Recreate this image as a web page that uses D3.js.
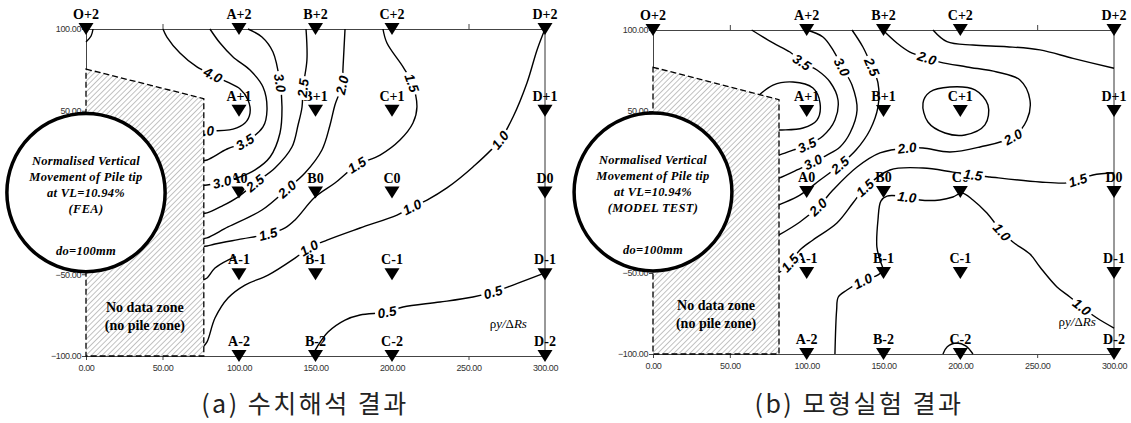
<!DOCTYPE html>
<html>
<head>
<meta charset="utf-8">
<script src="https://cdn.jsdelivr.net/npm/d3@7"></script>
<style>
  body { margin: 0; background: #fff; }
  .axis path, .axis line { stroke: #444; }
  .axis text { font-family: "Liberation Sans", Arial, sans-serif; font-size: 9px; fill: #333; letter-spacing: -0.4px; }
  .gauge text { font-family: "Liberation Serif", "Times New Roman", Tinos, "DejaVu Serif", serif; font-weight: bold; font-size: 14px; }
  .clabel { font-family: "Liberation Sans", Arial, sans-serif; font-weight: bold; font-style: italic; font-size: 13.5px; }
  .note { font-family: "Liberation Serif", "Times New Roman", Tinos, "DejaVu Serif", serif; font-weight: bold; font-style: italic; font-size: 12.5px; letter-spacing: 0.3px; }
  .zone { font-family: "Liberation Serif", "Times New Roman", Tinos, "DejaVu Serif", serif; font-weight: bold; font-size: 14px; }
  .unit { font-family: "Liberation Serif", "Times New Roman", Tinos, "DejaVu Serif", serif; font-size: 13px; }
  .caption { font-family: "Noto Sans CJK KR", sans-serif; font-size: 25px; fill: #222; letter-spacing: 2.5px; }
</style>
</head>
<body>
<svg id="chart" width="1131" height="423"></svg>
<script>

// axis ticks (mm); the 0.00 tick of the vertical axis sits under the pile circle
var xTicks = [0, 50, 100, 150, 200, 250, 300];
var yTicks = [-100, -50, 50, 100];

// gauge grid
var gaugeCols = [["A", 100], ["B", 150], ["C", 200], ["D", 300]];
var gaugeRows = [["+2", 100], ["+1", 50], ["0", 0], ["-1", -50], ["-2", -100]];

// pile (do = 100mm) and no data zones
var pileRadius = 50;
var feaHatch = [[0, 75.5], [77, 57.4], [77, -100], [0, -100]];
var modelHatch = [[0, 77], [82, 57], [82, -100], [0, -100]];

// contour lines: level, points (x mm, y mm), label vertices
var feaContours = [
  {level: 4.5, labels: [], pts: [[4.6,100],[3.3,95.7],[0,92]]},
  {level: 4.0, labels: [4, 11], pts: [[50.3,100],[52.9,95.1],[61.4,85.3],[72.5,76.8],[83,71.9],[92.2,67.6],[100.7,63.3],[105.9,56.6],[107.2,48.6],[103.9,42.5],[96.1,38.8],[77.5,37.6],[72,37.6]]},
  {level: 3.5, labels: [7], pts: [[81,100],[87.6,91.4],[96.1,82.9],[107.2,74.9],[115.7,64.5],[118.3,50.5],[115.7,40.1],[103.9,30.9],[92.2,26.6],[79.1,19.9],[76,19.5]]},
  {level: 3.0, labels: [3, 9], pts: [[105.9,100],[115,95.1],[122.2,85.9],[126.8,67.0],[128.1,52.3],[126.8,36.4],[120.3,21.7],[110.5,13.8],[100.7,9.5],[88.9,6.4],[79.1,4.6],[76,4.4]]},
  {level: 2.5, labels: [2, 7], pts: [[143.8,100],[144.4,81.0],[141.8,63.9],[141.2,52.3],[138.6,41.3],[134.6,27.8],[123.5,15.0],[110.5,5.8],[99.3,-2.8],[88.9,-8.3],[79.1,-12.5],[76,-12.8]]},
  {level: 2.0, labels: [2, 7], pts: [[169.3,100],[168,76.8],[167.3,65.7],[162.7,53.5],[159.5,41.3],[154.2,26.0],[143.1,11.9],[131.4,2.1],[115,-10.7],[92.8,-21.1],[79.1,-27.8],[76,-28.3]]},
  {level: 1.5, labels: [3, 8, 13], pts: [[194.1,100],[196.7,91.4],[207.2,76.8],[213.1,67.0],[216.3,52.3],[213.7,42.5],[205.2,32.1],[192.2,22.9],[177.1,16.8],[162.7,5.8],[149.7,-2.8],[136.6,-16.8],[130.1,-21.7],[119,-25.4],[102,-28.4],[84.3,-31.5],[79.1,-32.7],[76,-33]]},
  {level: 1.0, labels: [4, 8, 12], pts: [[300,100],[294.8,87.2],[288.2,67.0],[279.1,46.2],[270.6,32.1],[252.9,15.6],[235.9,2.8],[222.9,-4.6],[213.1,-8.9],[203.3,-13.8],[179.1,-21.7],[157.5,-29.1],[145.8,-33.9],[136.6,-40.1],[119,-50.5],[103.9,-56.6],[92.8,-64.5],[84.3,-76.8],[79.1,-91.4],[76,-95]]},
  {level: 1.0, labels: [], pts: [[76,-53.5],[79.1,-52.3],[84.3,-46.2],[92.8,-41.3],[98,-39.4]]},
  {level: 0.5, labels: [5, 9], pts: [[147.7,-100],[151,-94.5],[158.2,-85.3],[169.3,-78],[179.1,-74.9],[196.7,-73.1],[207.2,-70],[231.4,-67],[252.9,-63.9],[266,-60.9],[279.1,-56.6],[300,-49.2]]}
];

var modelContours = [
  {level: 4.0, labels: [], pts: [[67.7,58.6],[78.1,66.0],[91.1,67.9],[104.1,64.2],[108.7,54.9],[106.7,44.4],[97.6,39.5],[83.9,38.3],[79.4,38.3]]},
  {level: 3.5, labels: [3, 9], pts: [[64.2,100],[78.1,92.0],[89.1,86.4],[96.9,80.2],[106.7,75.3],[115.2,67.9],[120.4,56.8],[118.4,44.4],[110.6,34.6],[100.2,29.0],[91.1,25.9],[82.0,22.8],[79.4,22.2]]},
  {level: 3.0, labels: [3, 9], pts: [[100,100],[110.6,95.7],[117.1,87.7],[123.0,77.2],[129.5,66.0],[132.8,50.6],[128.2,36.4],[121.7,27.8],[113.2,22.8],[104.1,18.5],[93.7,13.6],[82.0,8.6],[79.4,8.0]]},
  {level: 2.5, labels: [2, 7], pts: [[129.5,100],[136.6,89.5],[142.5,77.2],[146.4,67.3],[146.4,52.5],[141.2,38.3],[132.1,25.9],[121.7,16.7],[108.7,7.4],[95.6,-1.9],[82.0,-8.0],[79.4,-9.3]]},
  {level: 2.0, labels: [3, 10, 14, 18], pts: [[149.6,100],[158.7,92.0],[167.2,86.4],[178.3,82.7],[186.7,80.2],[204.3,77.2],[223.8,74.1],[238.8,69.1],[245.3,56.8],[243.3,44.4],[234.2,34.0],[212.8,27.8],[193.2,24.7],[175.7,27.2],[165.3,27.2],[147.7,24.1],[132.8,15.4],[117.1,1.2],[107.4,-9.3],[95.6,-18.5],[82.0,-26.5],[79.4,-27.8]]},
  {level: 2.5, labels: [], closed: true, pts: [[175.7,54.9],[180.2,61.7],[193.2,64.8],[209.5,63.0],[218.0,53.7],[216.0,41.4],[203.0,35.2],[190.0,36.4],[178.9,43.2]]},
  {level: 2.0, labels: [], pts: [[182.2,100],[191.3,92.8],[208.2,90.7],[230.3,89.7],[251.8,87.7],[273.3,82.5],[300,76.4]]},
  {level: 1.5, labels: [2, 6, 10, 15], pts: [[300,11.7],[286.3,10.5],[276.5,7.4],[269.4,5.6],[251.8,6.2],[219.3,9.3],[208.2,10.5],[195.2,12.3],[175.7,14.8],[154.2,13.6],[137.9,2.5],[130.1,-6.8],[119.7,-19.1],[104.1,-29.6],[95.6,-35.8],[89.1,-43.8],[82.6,-49.4],[79.4,-50.6]]},
  {level: 1.0, labels: [4, 12, 19, 25], pts: [[118.4,-100],[119.5,-72.8],[120.6,-64.8],[126.2,-60.5],[136.6,-54.9],[146.4,-51.2],[149.6,-48.1],[147.7,-42.0],[145.7,-34.0],[146.4,-17.3],[148.3,-5.6],[152.3,-2.5],[165.3,-3.1],[173.7,-4.9],[186.7,-4.9],[195.2,-3.1],[201.0,-0.6],[208.2,-4.9],[217.3,-13.0],[227.1,-24.7],[234.2,-30.9],[245.3,-38.3],[251.8,-46.3],[262.9,-58.6],[271.3,-64.8],[279.1,-71.0],[288.9,-77.8],[300,-84.0]]},
  {level: 0.5, labels: [], pts: [[188.7,-100],[191.5,-95.5],[197.8,-93.2],[203.5,-95],[208.2,-100]]}
];

var noteLines = ["Normalised Vertical", "Movement of Pile tip", "at VL=10.94%"];

var gauges = [{name: "O+2", x: 0, y: 100}];
gaugeCols.forEach(function(c) {
  gaugeRows.forEach(function(r) {
    gauges.push({name: c[0] + r[0], x: c[1], y: r[1]});
  });
});

var panels = [
  {left: 86, right: 545, top: 29, bottom: 356, contours: feaContours, hatch: feaHatch,
   method: "(FEA)", caption: "(a) 수치해석 결과", captionX: 305},
  {left: 653, right: 1114, top: 30, bottom: 354, contours: modelContours, hatch: modelHatch,
   method: "(MODEL TEST)", caption: "(b) 모형실험 결과", captionX: 859}
];

var svg = d3.select("#chart");

// hatch pattern
svg.append("defs").append("pattern")
    .attr("id", "hatch")
    .attr("patternUnits", "userSpaceOnUse")
    .attr("width", 3.8).attr("height", 3.8)
    .attr("patternTransform", "rotate(45)")
  .append("line")
    .attr("x1", 0).attr("y1", 0).attr("x2", 0).attr("y2", 3.8)
    .attr("stroke", "#666").attr("stroke-width", 0.8);

var fmt = d3.format(".2f");

panels.forEach(function(p) {

    var x = d3.scaleLinear().domain([0, 300]).range([p.left, p.right]);
    var y = d3.scaleLinear().domain([-100, 100]).range([p.bottom, p.top]);

    var g = svg.append("g");

    // Axes
    g.append("g").attr("class", "axis")
        .attr("transform", "translate(0," + p.bottom + ")")
        .call(d3.axisBottom(x).tickValues(xTicks).tickFormat(fmt).tickSize(4).tickSizeOuter(0).tickPadding(5));

    g.append("g").attr("class", "axis")
        .attr("transform", "translate(" + p.left + ",0)")
        .call(d3.axisLeft(y).tickValues(yTicks).tickFormat(fmt).tickSize(4).tickSizeOuter(0).tickPadding(1));

    g.append("g").attr("class", "axis")
        .attr("transform", "translate(0," + p.top + ")")
        .call(d3.axisTop(x).tickValues(xTicks).tickFormat("").tickSize(5).tickSizeOuter(0));

    g.append("line")
        .attr("x1", x(300)).attr("x2", x(300))
        .attr("y1", y(100)).attr("y2", y(-100))
        .attr("stroke", "#333");

    // Gauges
    var mk = g.selectAll(".gauge").data(gauges).join("g")
        .attr("class", "gauge")
        .attr("transform", function(d) { return "translate(" + x(d.x) + "," + y(d.y) + ")"; });
    mk.append("path").attr("d", "M-7.5,-6L7.5,-6L0,6Z").attr("fill", "#000");
    mk.append("text").attr("y", -10).attr("text-anchor", "middle").text(function(d) { return d.name; });

    // Contour lines
    p.contours.forEach(function(c) {
        var valueline = d3.line()
            .x(function(d) { return x(d[0]); })
            .y(function(d) { return y(d[1]); })
            .curve(c.closed ? d3.curveCatmullRomClosed : d3.curveCatmullRom);
        g.append("path").datum(c.pts)
            .attr("d", valueline)
            .attr("fill", "none")
            .attr("stroke", "#000")
            .attr("stroke-width", 1.4);
    });

    // Contour labels
    p.contours.forEach(function(c) {
        c.labels.forEach(function(i) {
            var a = c.pts[Math.max(i - 1, 0)], b = c.pts[Math.min(i + 1, c.pts.length - 1)];
            var ang = Math.atan2(y(b[1]) - y(a[1]), x(b[0]) - x(a[0])) * 180 / Math.PI;
            if (ang > 90) ang -= 180;
            if (ang < -90) ang += 180;
            var lab = g.append("g")
                .attr("transform", "translate(" + x(c.pts[i][0]) + "," + y(c.pts[i][1]) + ") rotate(" + ang + ")");
            lab.append("rect").attr("x", -12).attr("y", -6).attr("width", 24).attr("height", 12).attr("fill", "#fff");
            lab.append("text").attr("class", "clabel")
                .attr("text-anchor", "middle").attr("dy", "0.36em")
                .text(c.level.toFixed(1));
        });
    });

    // No data zone
    var hatchLine = d3.line().x(function(d) { return x(d[0]); }).y(function(d) { return y(d[1]); });
    g.append("path").attr("d", hatchLine(p.hatch) + "Z").attr("fill", "#fff");
    g.append("path").attr("d", hatchLine(p.hatch) + "Z")
        .attr("fill", "url(#hatch)")
        .attr("stroke", "#000")
        .attr("stroke-width", 1.3)
        .attr("stroke-dasharray", "6,3");

    var zx = x(d3.mean(d3.extent(p.hatch, function(d) { return d[0]; })));
    g.append("text").attr("class", "zone").attr("x", zx).attr("y", y(-70))
        .attr("text-anchor", "middle").attr("dy", "0.35em").text("No data zone");
    g.append("text").attr("class", "zone").attr("x", zx).attr("y", y(-81))
        .attr("text-anchor", "middle").attr("dy", "0.35em").text("(no pile zone)");

    // Pile circle
    var r = ((x(pileRadius) - x(0)) + (y(0) - y(pileRadius))) / 2;
    g.append("circle").attr("cx", x(0)).attr("cy", y(0)).attr("r", r)
        .attr("fill", "#fff").attr("stroke", "#000").attr("stroke-width", 3.5);

    noteLines.concat([p.method]).forEach(function(t, k) {
        g.append("text").attr("class", "note")
            .attr("x", x(0)).attr("y", y(0) - 32 + k * 16)
            .attr("text-anchor", "middle").attr("dy", "0.35em").text(t);
    });
    g.append("text").attr("class", "note")
        .attr("x", x(0)).attr("y", y(0) + 58)
        .attr("text-anchor", "middle").attr("dy", "0.35em").text("do=100mm");

    // unit
    var u = g.append("text").attr("class", "unit")
        .attr("x", x(276)).attr("y", y(-80))
        .attr("text-anchor", "middle").attr("dy", "0.35em");
    u.append("tspan").text("ρ");
    u.append("tspan").attr("font-style", "italic").text("y/");
    u.append("tspan").text("Δ");
    u.append("tspan").attr("font-style", "italic").text("Rs");

    // caption
    svg.append("text").attr("class", "caption")
        .attr("x", p.captionX).attr("y", 413)
        .attr("text-anchor", "middle").text(p.caption);
});

</script>
</body>
</html>
